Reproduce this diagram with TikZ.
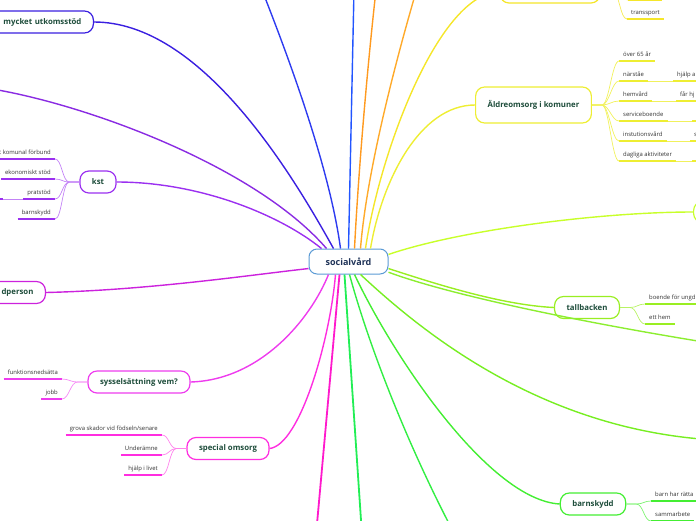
\documentclass[tikz,border=0pt]{standalone}
\usepackage{fontspec}
\setmainfont{Open Sans}
\definecolor{socnavy}{HTML}{1F3358}
\definecolor{socborder}{HTML}{5B9BD5}
\definecolor{topictext}{HTML}{1E4D3B}
\definecolor{leafgray}{HTML}{333333}
\definecolor{kstc}{HTML}{9B30F0}
\definecolor{lpur}{HTML}{8A2BE2}
\definecolor{mycc}{HTML}{3A1FE0}
\definecolor{blub}{HTML}{2E3CF0}
\definecolor{bluc}{HTML}{2255FF}
\definecolor{orgd}{HTML}{FF9A1F}
\definecolor{orge}{HTML}{FFAA2A}
\definecolor{yelf}{HTML}{F5E62A}
\definecolor{alda}{HTML}{EEEE33}
\definecolor{ygr}{HTML}{C8FF2A}
\definecolor{talc}{HTML}{99EE22}
\definecolor{grn1}{HTML}{8CEE30}
\definecolor{grn2}{HTML}{77EE22}
\definecolor{barc}{HTML}{44EE33}
\definecolor{grn3}{HTML}{33EE44}
\definecolor{grn4}{HTML}{22EE55}
\definecolor{pnk}{HTML}{FF1ACC}
\definecolor{specc}{HTML}{FF2EE0}
\definecolor{sysc}{HTML}{EE3CEE}
\definecolor{dpc}{HTML}{CC22DD}
\newcommand\topicfont{\fontsize{7.8}{9}\selectfont\bfseries}
\newcommand\leaffont{\fontsize{5.9}{7}\selectfont}
\begin{document}
\begin{tikzpicture}[x=1pt,y=-1pt,
  topic/.style={draw,fill=white,rounded corners=9pt,line width=1.2pt,font=\topicfont,text=topictext,inner xsep=12pt,inner ysep=0pt,minimum height=22pt},
  leaf/.style={font=\leaffont,text=leafgray,inner xsep=4pt,inner ysep=3pt,text height=4.4pt,text depth=1.4pt},
  branch/.style={line width=1.4pt},
  twig/.style={line width=0.7pt},
  ul/.style={line width=1.4pt}]
\useasboundingbox (0,0) rectangle (696,520);
\clip (0,0) rectangle (696,520);
% centre
\node[draw=socborder,fill=white,rounded corners=8pt,line width=1pt,minimum width=79pt,minimum height=25pt,font=\fontsize{9}{10}\selectfont\bfseries,text=socnavy] (soc) at (348.5,261.5) {socialvård};
% topics
\node[topic,draw=mycc,anchor=east,text width=90pt,align=right] (myc) at (94,22) {mycket utkomsstöd};
\node[topic,draw=yelf,minimum width=100pt] (ytop) at (550,-8) {};
\node[topic,draw=alda,minimum height=36pt] (ald) at (533.5,105) {Äldreomsorg i komuner};
\node[topic,draw=ygr,anchor=west,minimum width=40pt,minimum height=21pt] (yrt) at (693,212) {};
\node[topic,draw=talc] (tal) at (587,307.5) {tallbacken};
\node[topic,draw=barc] (bar) at (593,504) {barnskydd};
\node[topic,draw=specc] (spe) at (228,448.5) {special omsorg};
\node[topic,draw=sysc] (sys) at (139,382) {sysselsättning vem?};
\node[topic,draw=dpc,anchor=east,text width=40pt,align=right] (dp) at (46,292.5) {dperson};
\node[topic,draw=kstc] (kst) at (98,182) {kst};
% branches leaving the picture
\coordinate (lft) at (-30,86);
\coordinate (up1) at (258,-20);
\coordinate (up2) at (354,-10);
\coordinate (up3) at (376,-10);
\coordinate (up4) at (418,-15);
\coordinate (rt1) at (710,343);
\coordinate (rt2) at (715,440);
\coordinate (dn1) at (455,535);
\coordinate (dn2) at (362,535);
\coordinate (dn3) at (316,535);
% branches
\draw[branch,kstc] (kst.east) .. controls (200,182) and (280,215) .. ([xshift=-27pt]soc.north);
\draw[branch,lpur] (lft) .. controls (60,95) and (250,160) .. ([xshift=-22pt]soc.north);
\draw[branch,mycc] (myc.east) .. controls (200,22) and (290,170) .. ([xshift=-15pt]soc.north);
\draw[branch,blub] (up1) .. controls (290,60) and (330,170) .. ([xshift=-8pt]soc.north);
\draw[branch,bluc] (up2) -- (soc.north);
\draw[branch,orgd] (up3) .. controls (366,80) and (358,180) .. ([xshift=6pt]soc.north);
\draw[branch,orge] (up4) .. controls (390,80) and (366,180) .. ([xshift=12pt]soc.north);
\draw[branch,yelf] (ytop.west) .. controls (440,-8) and (380,150) .. ([xshift=17pt]soc.north);
\draw[branch,alda] (ald.west) .. controls (420,105) and (382,180) .. ([xshift=22pt]soc.north);
\draw[branch,ygr] (yrt.west) .. controls (600,212) and (460,230) .. (soc.10);
\draw[branch,talc] (tal.west) .. controls (500,305) and (430,282) .. (soc.-10);
\draw[branch,grn1] (rt1) .. controls (580,322) and (450,295) .. (soc.-15);
\draw[branch,grn2] (rt2) .. controls (540,430) and (420,330) .. ([xshift=12pt]soc.south);
\draw[branch,barc] (bar.west) .. controls (490,500) and (395,360) .. ([xshift=6pt]soc.south);
\draw[branch,grn3] (dn1) .. controls (410,450) and (370,350) .. ([xshift=1pt]soc.south);
\draw[branch,grn4,line width=1.8pt] (dn2) -- ([xshift=-4pt]soc.south);
\draw[branch,pnk,line width=1.8pt] (dn3) -- ([xshift=-9pt]soc.south);
\draw[branch,specc] (spe.east) .. controls (300,445) and (330,340) .. ([xshift=-13pt]soc.south);
\draw[branch,sysc] (sys.east) .. controls (260,380) and (310,320) .. ([xshift=-20pt]soc.south);
\draw[branch,dpc] (dp.east) .. controls (150,290) and (250,275) .. (soc.190);
% leaves right
\foreach \t [count=\i] in {över 65 år,närståe,hemvård,serviceboende,instutionsvård,dagliga aktiviteter} {
  \node[leaf,anchor=south west] (ald\i) at (619,{41+20*\i}) {\t};
  \draw[ul,alda] (ald\i.south west) -- (ald\i.south east);
  \draw[twig,alda!80] (ald.east) -- ++(10,0) .. controls +(7,0) and +(-7,0) .. (ald\i.south west);
}
\node[leaf,anchor=south west] (ald2a) at (673,81) {hjälp a};
\node[leaf,anchor=south west] (ald3a) at (676,101) {får hj};
\node[leaf,anchor=south west] (ald5a) at (690,141) {s};
\coordinate (ald4a) at (692,121);
\coordinate (ald6a) at (692,161);
\foreach \p/\c in {ald2/ald2a,ald3/ald3a,ald5/ald5a} {
  \draw[twig,alda!80] (\p.south east) -- (\c.south west);
  \draw[ul,alda] (\c.south west) -- (\c.south east);
}
\foreach \p/\c in {ald4/ald4a,ald6/ald6a} {
  \draw[twig,alda!80] (\p.south east) -- (\c);
  \draw[ul,alda] (\c) -- ++(10,0);
}
\node[leaf,anchor=south west,minimum width=34pt] (yt1) at (628,0) {};
\node[leaf,anchor=south west] (yt2) at (627,19) {transsport};
\foreach \i in {1,2} {
  \draw[ul,yelf] (yt\i.south west) -- (yt\i.south east);
  \draw[twig,yelf!80] (ytop.east) -- ++(12,0) .. controls +(7,0) and +(-7,0) .. (yt\i.south west);
}
\foreach \t [count=\i] in {boende för ungd,ett hem} {
  \node[leaf,anchor=south west] (tal\i) at (645,{284+20*\i}) {\t};
  \draw[ul,talc] (tal\i.south west) -- (tal\i.south east);
  \draw[twig,talc!70] (tal.east) -- ++(10,0) .. controls +(7,0) and +(-7,0) .. (tal\i.south west);
}
\foreach \t [count=\i] in {barn har rätta,sammarbete} {
  \node[leaf,anchor=south west] (bar\i) at (651,{481+20*\i}) {\t};
  \draw[ul,barc] (bar\i.south west) -- (bar\i.south east);
  \draw[twig,barc!70] (bar.east) -- ++(10,0) .. controls +(7,0) and +(-7,0) .. (bar\i.south west);
}
% leaves left
\foreach \t [count=\i] in {t komunal förbund,ekonomiskt stöd,pratstöd,barnskydd} {
  \node[leaf,anchor=south east] (kst\i) at (55,{139+20*\i}) {\t};
  \draw[ul,kstc] (kst\i.south west) -- (kst\i.south east);
  \draw[twig,kstc!60] (kst.west) -- ++(-10,0) .. controls +(-7,0) and +(7,0) .. (kst\i.south east);
}
\coordinate (kst3a) at (3,199);
\draw[twig,kstc!60] (kst3.south west) -- (kst3a);
\draw[ul,kstc] (kst3a) -- ++(-10,0);
\foreach \t/\y [count=\i] in {funktionsnedsätta/379,jobb/399} {
  \node[leaf,anchor=south east] (sys\i) at (62,\y) {\t};
  \draw[ul,sysc] (sys\i.south west) -- (sys\i.south east);
  \draw[twig,sysc!60] (sys.west) -- ++(-10,0) .. controls +(-7,0) and +(7,0) .. (sys\i.south east);
}
\foreach \t [count=\i] in {grova skador vid födseln/senare,Underämne,hjälp i livet} {
  \node[leaf,anchor=south east] (spe\i) at (162,{415+20*\i}) {\t};
  \draw[ul,specc] (spe\i.south west) -- (spe\i.south east);
  \draw[twig,specc!60] (spe.west) -- ++(-10,0) .. controls +(-7,0) and +(7,0) .. (spe\i.south east);
}
\end{tikzpicture}
\end{document}
